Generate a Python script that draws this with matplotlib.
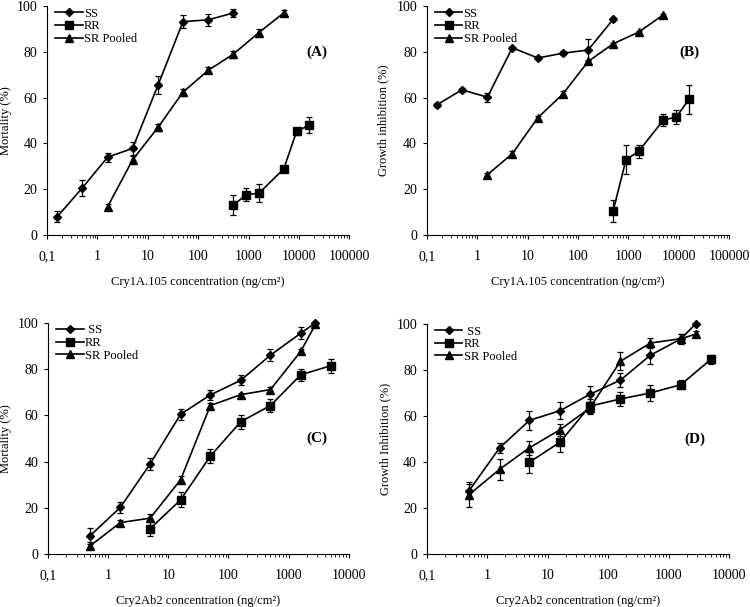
import matplotlib
matplotlib.use("Agg")
import matplotlib.pyplot as plt
from matplotlib.ticker import LogLocator, FixedLocator, FixedFormatter, NullFormatter

plt.rcParams['font.family'] = ['Liberation Serif', 'DejaVu Serif']

# ---- Panel A: Cry1A.105, mortality ----
a_ss_x = [0.16, 0.5, 1.6, 5, 16, 50, 160, 500]
a_ss_y = [8, 20.5, 34, 37.8, 65.5, 93.2, 94, 97]
a_ss_e = [2.5, 3.5, 2, 3, 3.8, 3, 2.5, 1.8]
a_rr_x = [500, 900, 1600, 5000, 9000, 16000]
a_rr_y = [13, 17.6, 18.2, 28.8, 45.2, 48]
a_rr_e = [4.5, 3, 4, 1.5, 1.5, 3.5]
a_sr_x = [1.6, 5, 16, 50, 160, 500, 1600, 5000]
a_sr_y = [12.4, 32.8, 47, 62.4, 72, 79, 88.4, 97]
a_sr_e = [1.2, 1.5, 1.5, 1.5, 1.2, 1.5, 1.5, 1.2]

# ---- Panel B: Cry1A.105, growth inhibition ----
b_ss_x = [0.16, 0.5, 1.6, 5, 16, 50, 160, 500]
b_ss_y = [56.9, 63.4, 60.2, 81.8, 77.3, 79.4, 80.8, 94.2]
b_ss_e = [0.8, 1, 2, 0.5, 0.5, 1, 4.8, 0.5]
b_rr_x = [500, 900, 1600, 5000, 9000, 16000]
b_rr_y = [10.4, 32.8, 36.5, 50.2, 51.5, 59.2]
b_rr_e = [4.7, 6.3, 2.8, 2.5, 3, 6.5]
b_sr_x = [1.6, 5, 16, 50, 160, 500, 1600, 5000]
b_sr_y = [26.3, 35.5, 51.2, 61.5, 75.8, 83.5, 88.6, 96.2]
b_sr_e = [0.8, 1.2, 0.8, 1.2, 0.8, 0.5, 0.5, 0.5]

# ---- Panel C: Cry2Ab2, mortality ----
c_ss_x = [0.5, 1.6, 5, 16, 50, 160, 500, 1600, 2800]
c_ss_y = [7.9, 20.2, 39, 60.4, 68.8, 75.1, 86, 95.5, 100]
c_ss_e = [3.5, 2.5, 2.5, 2.5, 2, 2.2, 2.5, 2.5, 0.5]
c_rr_x = [5, 16, 50, 160, 500, 1600, 5000]
c_rr_y = [11, 23.4, 42.3, 57.2, 64.2, 77.5, 81.4]
c_rr_e = [3.2, 3.2, 3, 3, 2.8, 2.5, 3]
c_sr_x = [0.5, 1.6, 5, 16, 50, 160, 500, 1600, 2800]
c_sr_y = [3.5, 13.6, 15.5, 32.1, 64.2, 68.9, 71.1, 87.7, 99.3]
c_sr_e = [1.5, 1.2, 1.8, 1.5, 1.2, 0.8, 1.2, 1, 1]

# ---- Panel D: Cry2Ab2, growth inhibition ----
d_ss_x = [0.5, 1.6, 5, 16, 50, 160, 500, 1600, 2800]
d_ss_y = [27.5, 46.1, 58.1, 62.3, 69.4, 75.6, 86.4, 93.5, 100]
d_ss_e = [3, 2, 4, 3.8, 3.5, 3, 4, 2, 0.3]
d_rr_x = [5, 16, 50, 160, 500, 1600, 5000]
d_rr_y = [39.9, 48.6, 64.3, 67.4, 70, 73.6, 84.6]
d_rr_e = [4.5, 4.2, 3, 3, 3.5, 2, 2]
d_sr_x = [0.5, 1.6, 5, 16, 50, 160, 500, 1600, 2800]
d_sr_y = [25.8, 36.8, 46.2, 54, 63.5, 83.8, 91.7, 93.6, 95.5]
d_sr_e = [5.5, 4.5, 3, 2.5, 2.5, 4, 2, 2, 1.3]

xticks_a = [0.1, 1, 10, 100, 1000, 10000, 100000]
xlabels_a = ['0,1', '1', '10', '100', '1000', '10000', '100000']
xticks_c = [0.1, 1, 10, 100, 1000, 10000]
xlabels_c = ['0,1', '1', '10', '100', '1000', '10000']

panels = [
    # rect, data, xticks, xlabels, xlabel, ylabel, ylabel x, tag, tag pos, SS label
    ([0.0627, 0.613, 0.403, 0.377],
     (a_ss_x, a_ss_y, a_ss_e, a_rr_x, a_rr_y, a_rr_e, a_sr_x, a_sr_y, a_sr_e),
     xticks_a, xlabels_a, 'Cry1A.105 concentration (ng/cm²)', 'Mortality (%)', -0.116,
     '(A)', (0.894, 0.80), 'SS'),
    ([0.569, 0.613, 0.403, 0.377],
     (b_ss_x, b_ss_y, b_ss_e, b_rr_x, b_rr_y, b_rr_e, b_sr_x, b_sr_y, b_sr_e),
     xticks_a, xlabels_a, 'Cry1A.105 concentration (ng/cm²)', 'Growth inhibition (%)', -0.123,
     '(B)', (0.87, 0.80), 'SS'),
    ([0.064, 0.0873, 0.401, 0.381],
     (c_ss_x, c_ss_y, c_ss_e, c_rr_x, c_rr_y, c_rr_e, c_sr_x, c_sr_y, c_sr_e),
     xticks_c, xlabels_c, 'Cry2Ab2 concentration (ng/cm²)', 'Mortality (%)', -0.12,
     '(C)', (0.894, 0.50), ' SS'),
    ([0.569, 0.0873, 0.403, 0.379],
     (d_ss_x, d_ss_y, d_ss_e, d_rr_x, d_rr_y, d_rr_e, d_sr_x, d_sr_y, d_sr_e),
     xticks_c, xlabels_c, 'Cry2Ab2 concentration (ng/cm²)', 'Growth Inhibition (%)', -0.116,
     '(D)', (0.887, 0.50), ' SS'),
]

fig = plt.figure(figsize=(7.5, 6.07), dpi=100)

for rect, data, xt, xl, xlab, ylab, ylx, tag, tagpos, sslab in panels:
    ax = fig.add_axes(rect)
    ssx, ssy, sse, rrx, rry, rre, srx, sry, sre = data
    series = [(ssx, ssy, sse, 'D', 4, sslab),
              (rrx, rry, rre, 's', 5.5, 'RR'),
              (srx, sry, sre, '^', 6, 'SR Pooled')]
    for x, y, e, m, ms, lab in series:
        ax.errorbar(x, y, yerr=e, fmt='none', ecolor='black', elinewidth=0.9,
                    capsize=2.5, capthick=0.9, clip_on=False)
        ax.plot(x, y, color='black', lw=1.2, marker=m, ms=ms, label=lab,
                clip_on=False, zorder=3)

    ax.set_xscale('log')
    ax.set_xlim(xt[0], xt[-1])
    ax.set_ylim(0, 100)
    ax.set_yticks([0, 20, 40, 60, 80, 100])
    ax.xaxis.set_major_locator(FixedLocator(xt))
    ax.xaxis.set_major_formatter(FixedFormatter(xl))
    ax.xaxis.set_minor_locator(LogLocator(base=10, subs=range(2, 10)))
    ax.xaxis.set_minor_formatter(NullFormatter())
    ax.tick_params(axis='both', which='major', labelsize=10, direction='out',
                   length=3, width=0.8)
    ax.tick_params(axis='x', which='major', pad=8)
    ax.tick_params(axis='x', which='minor', direction='out', length=2, width=0.6)
    ax.tick_params(axis='y', pad=4)
    for s in ['top', 'right']:
        ax.spines[s].set_visible(False)
    ax.spines['left'].set_linewidth(0.8)
    ax.spines['bottom'].set_linewidth(0.8)

    ax.set_xlabel(xlab, fontsize=9, labelpad=9)
    ax.set_ylabel(ylab, fontsize=9)
    ax.yaxis.set_label_coords(ylx, 0.5)
    ax.text(tagpos[0], tagpos[1], tag, transform=ax.transAxes, fontsize=11,
            fontweight='bold', ha='center', va='center')

    ax.legend(loc='upper left', frameon=False, fontsize=9,
              handlelength=2.2, handletextpad=0.1, labelspacing=0.05,
              borderaxespad=0.0, bbox_to_anchor=(0.01, 1.015))

fig.savefig('out.png', dpi=100)
